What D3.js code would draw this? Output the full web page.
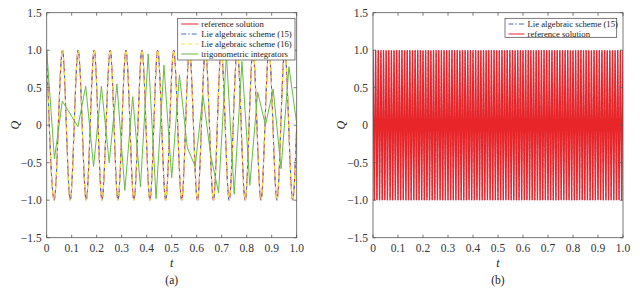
<!DOCTYPE html>
<html lang="en">
<head>
  <meta charset="UTF-8">
  <title>Q(t): reference vs Lie algebraic schemes</title>
  <script src="https://d3js.org/d3.v7.min.js"></script>
  <style>
    body { margin: 0; background: #fff; }
    svg { display: block; font-family: "Liberation Serif", "Times New Roman", serif; }
    .tick-label { font-size: 11.5px; fill: #333; }
    .legend-text { font-size: 8.7px; fill: #222; }
  </style>
</head>
<body>
  <svg id="chart" width="640" height="291"></svg>
  <script>
    // axis ticks
    const xTicks = [0, 0.1, 0.2, 0.3, 0.4, 0.5, 0.6, 0.7, 0.8, 0.9, 1.0];
    const yTicks = [-1.5, -1.0, -0.5, 0, 0.5, 1.0, 1.5];

    // (a) extrema of the reference solution (also schemes 15 and 16, they overlap)
    const refTimes = [0, 0.030, 0.063, 0.094, 0.126, 0.158, 0.190, 0.221, 0.254, 0.285,
      0.317, 0.349, 0.381, 0.413, 0.444, 0.476, 0.508, 0.540, 0.571, 0.603, 0.635, 0.667,
      0.698, 0.730, 0.762, 0.794, 0.825, 0.857, 0.889, 0.921, 0.952, 0.984, 1.0];
    const refValues = [1, -1, 1, -1, 1, -1, 1, -1, 1, -1, 1, -1, 1, -1, 1, -1, 1, -1,
      1, -1, 1, -1, 1, -1, 1, -1, 1, -1, 1, -1, 1, -1, 0];

    // (a) trigonometric integrators, coarse steps
    const trigTimes = [0, 0.031, 0.0625, 0.094, 0.125, 0.156, 0.1875, 0.219, 0.25, 0.281,
      0.3125, 0.344, 0.375, 0.406, 0.4375, 0.469, 0.5, 0.531, 0.5625, 0.594, 0.625, 0.656,
      0.6875, 0.719, 0.75, 0.781, 0.8125, 0.844, 0.875, 0.906, 0.9375, 0.969, 1.0];
    const trigValues = [1.0, -0.45, 0.32, 0.15, -0.02, 0.52, -0.55, 0.52, -0.50, 0.55,
      -0.87, 0.38, -0.82, 0.95, -0.98, 0.80, -0.70, 0.67, -0.30, -0.55, 0.40, -0.40,
      -0.90, 0.95, -0.92, 0.85, -0.80, 0.44, 0.0, 0.48, -0.58, 0.78, 0.02];

    // (b) very fast oscillation, amplitude 1, too dense to resolve; ~95 periods over [0, 1]
    const bAmplitude = 1.0;
    const bHalfCycles = 190;
    const bTimes = d3.range(bHalfCycles + 1).map(i => i / bHalfCycles);
    const bValues = bTimes.map((t, i) => (i % 2 === 0 ? bAmplitude : -bAmplitude));

    const colors = { ref: "#e8262a", lie15: "#3f6fd0", lie16: "#f7e04a", trig: "#66bb44" };

    const svg = d3.select("#chart");
    const plotTop = 12.7, plotBottom = 237.7;

    function drawPanel(left, right, label, series, legendItems, legendBox) {
      const x = d3.scaleLinear().domain([0, 1]).range([left, right]);
      const y = d3.scaleLinear().domain([-1.5, 1.5]).range([plotBottom, plotTop]);
      const g = svg.append("g");

      g.append("defs").append("clipPath").attr("id", "clip" + label)
        .append("rect").attr("x", left).attr("y", plotTop)
        .attr("width", right - left).attr("height", plotBottom - plotTop);

      const plot = g.append("g").attr("clip-path", `url(#clip${label})`);
      series.forEach(s => {
        const line = d3.line()
          .x((d, i) => x(s.t[i]))
          .y(d => y(d))
          .curve(s.curve || d3.curveLinear);
        plot.append("path")
          .attr("d", line(s.v))
          .attr("fill", "none")
          .attr("stroke", s.color)
          .attr("stroke-width", s.width || 1)
          .attr("stroke-dasharray", s.dash || null);
      });

      // frame and inward ticks on all sides
      g.append("rect").attr("x", left).attr("y", plotTop)
        .attr("width", right - left).attr("height", plotBottom - plotTop)
        .attr("fill", "none").attr("stroke", "#555").attr("stroke-width", 0.8);

      const tl = 3;
      xTicks.forEach(t => {
        g.append("line").attr("x1", x(t)).attr("x2", x(t)).attr("y1", plotBottom).attr("y2", plotBottom - tl)
          .attr("stroke", "#555").attr("stroke-width", 0.8);
        g.append("line").attr("x1", x(t)).attr("x2", x(t)).attr("y1", plotTop).attr("y2", plotTop + tl)
          .attr("stroke", "#555").attr("stroke-width", 0.8);
        g.append("text").attr("class", "tick-label")
          .attr("x", x(t)).attr("y", plotBottom + 14.5).attr("text-anchor", "middle")
          .text(t === 0 ? "0" : t.toFixed(1));
      });
      yTicks.forEach(v => {
        g.append("line").attr("x1", left).attr("x2", left + tl).attr("y1", y(v)).attr("y2", y(v))
          .attr("stroke", "#555").attr("stroke-width", 0.8);
        g.append("line").attr("x1", right).attr("x2", right - tl).attr("y1", y(v)).attr("y2", y(v))
          .attr("stroke", "#555").attr("stroke-width", 0.8);
        g.append("text").attr("class", "tick-label")
          .attr("x", left - 5).attr("y", y(v) + 4).attr("text-anchor", "end")
          .text(v === 0 ? "0" : (v < 0 ? "\u2212" : "") + Math.abs(v).toFixed(1));
      });

      // axis titles
      g.append("text").attr("x", (left + right) / 2).attr("y", 267)
        .attr("text-anchor", "middle").attr("font-style", "italic")
        .attr("font-size", 12).attr("fill", "#222").text("t");
      g.append("text")
        .attr("transform", `translate(${left - 28},${y(0)}) rotate(-90)`)
        .attr("text-anchor", "middle").attr("font-style", "italic")
        .attr("font-size", 12).attr("fill", "#222").text("Q");
      g.append("text").attr("x", (left + right) / 2).attr("y", 284)
        .attr("text-anchor", "middle").attr("font-size", 11.5).attr("fill", "#222")
        .text(`(${label})`);

      // legend
      const lg = g.append("g");
      lg.append("rect").attr("x", legendBox.x).attr("y", legendBox.y)
        .attr("width", legendBox.w).attr("height", legendBox.h)
        .attr("fill", "#fff").attr("stroke", "#444").attr("stroke-width", 0.7);
      legendItems.forEach((it, i) => {
        const ly = legendBox.y + 5.7 + i * 10;
        lg.append("line").attr("x1", legendBox.x + 3.5).attr("x2", legendBox.x + legendBox.lw)
          .attr("y1", ly).attr("y2", ly)
          .attr("stroke", it.color).attr("stroke-width", 1)
          .attr("stroke-dasharray", it.dash || null);
        lg.append("text").attr("class", "legend-text")
          .attr("x", legendBox.x + legendBox.lw + 3).attr("y", ly + 3)
          .text(it.name);
      });
    }

    // panel (a)
    drawPanel(46.7, 296.7, "a", [
      { t: refTimes, v: refValues, color: colors.ref, curve: d3.curveMonotoneX },
      { t: refTimes, v: refValues, color: colors.lie15, dash: "5,2,1.5,2", curve: d3.curveMonotoneX },
      { t: refTimes, v: refValues, color: colors.lie16, dash: "4,3", curve: d3.curveMonotoneX, width: 1.2 },
      { t: trigTimes, v: trigValues, color: colors.trig }
    ], [
      { name: "reference solution", color: colors.ref },
      { name: "Lie algebraic scheme (15)", color: colors.lie15, dash: "5,2,1.5,2" },
      { name: "Lie algebraic scheme (16)", color: colors.lie16, dash: "4,3" },
      { name: "trigonometric integrators", color: colors.trig }
    ], { x: 177.7, y: 18.3, w: 117.3, h: 41.7, lw: 20.6 });

    // panel (b): scheme (15) lies underneath the reference solution
    drawPanel(373, 623, "b", [
      { t: bTimes, v: bValues, color: colors.lie15, dash: "5,2,1.5,2", width: 0.6 },
      { t: bTimes, v: bValues, color: colors.ref, width: 1.4 }
    ], [
      { name: "Lie algebraic scheme (15)", color: colors.lie15, dash: "5,2,1.5,2" },
      { name: "reference solution", color: colors.ref }
    ], { x: 505, y: 18.3, w: 111.7, h: 19, lw: 19.5 });
  </script>
</body>
</html>
